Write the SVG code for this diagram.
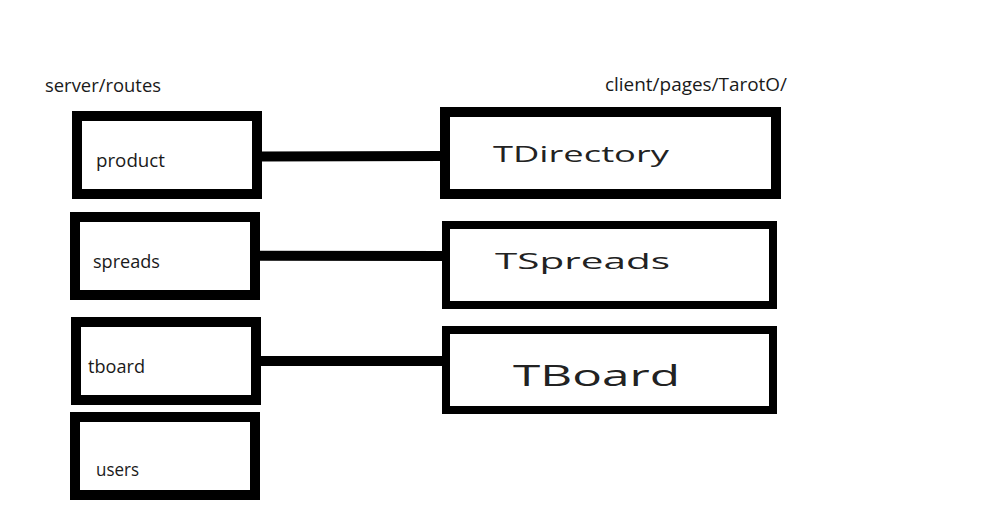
<svg xmlns="http://www.w3.org/2000/svg" width="1008" height="516" viewBox="0 0 1008 516">
<style>
.box{fill:#fff;stroke:#000;stroke-linejoin:miter}
.lb{stroke-width:10}
.rb{stroke-width:8}
.con{stroke:#000;stroke-width:10;fill:none}
.t{font-family:"Open Sans","Noto Sans","Liberation Sans",sans-serif;fill:#1a1a1a}
.s{font-size:18px}
.big{fill:#222}
</style>
<rect width="1008" height="516" fill="#fff"/>
<text class="t s" x="45" y="92" textLength="116" lengthAdjust="spacingAndGlyphs">server/routes</text>
<text class="t s" x="605" y="91" textLength="182" lengthAdjust="spacingAndGlyphs">client/pages/TarotO/</text>
<g id="connectors">
<line class="con" x1="260" y1="156.5" x2="443" y2="156"/>
<line class="con" x1="258" y1="255.7" x2="445" y2="256"/>
<line class="con" x1="259" y1="361" x2="445" y2="361"/>
</g>
<g id="product">
<rect class="box lb" x="77" y="116" width="180" height="78"/>
<text class="t s" x="96" y="167" textLength="69" lengthAdjust="spacingAndGlyphs">product</text>
</g>
<g id="spreads">
<rect class="box lb" x="75" y="217" width="180" height="78"/>
<text class="t s" x="93" y="268" textLength="67" lengthAdjust="spacingAndGlyphs">spreads</text>
</g>
<g id="tboard">
<rect class="box lb" x="76" y="322" width="180" height="78"/>
<text class="t s" x="88" y="373" textLength="57" lengthAdjust="spacingAndGlyphs">tboard</text>
</g>
<g id="users">
<rect class="box lb" x="75" y="417" width="180" height="78"/>
<text class="t s" x="96" y="476" textLength="43" lengthAdjust="spacingAndGlyphs">users</text>
</g>
<g id="TDirectory">
<rect class="box" style="stroke-width:10" x="445" y="112" width="331" height="82"/>
<text class="t big" x="493" y="162" font-size="21" textLength="176" lengthAdjust="spacingAndGlyphs">TDirectory</text>
</g>
<g id="TSpreads">
<rect class="box rb" x="446" y="225" width="327" height="80"/>
<text class="t big" x="495" y="269" font-size="22.5" textLength="175" lengthAdjust="spacingAndGlyphs">TSpreads</text>
</g>
<g id="TBoard">
<rect class="box rb" x="446" y="330" width="327" height="80"/>
<text class="t big" x="513" y="386" font-size="29" textLength="167" lengthAdjust="spacingAndGlyphs">TBoard</text>
</g>
</svg>
